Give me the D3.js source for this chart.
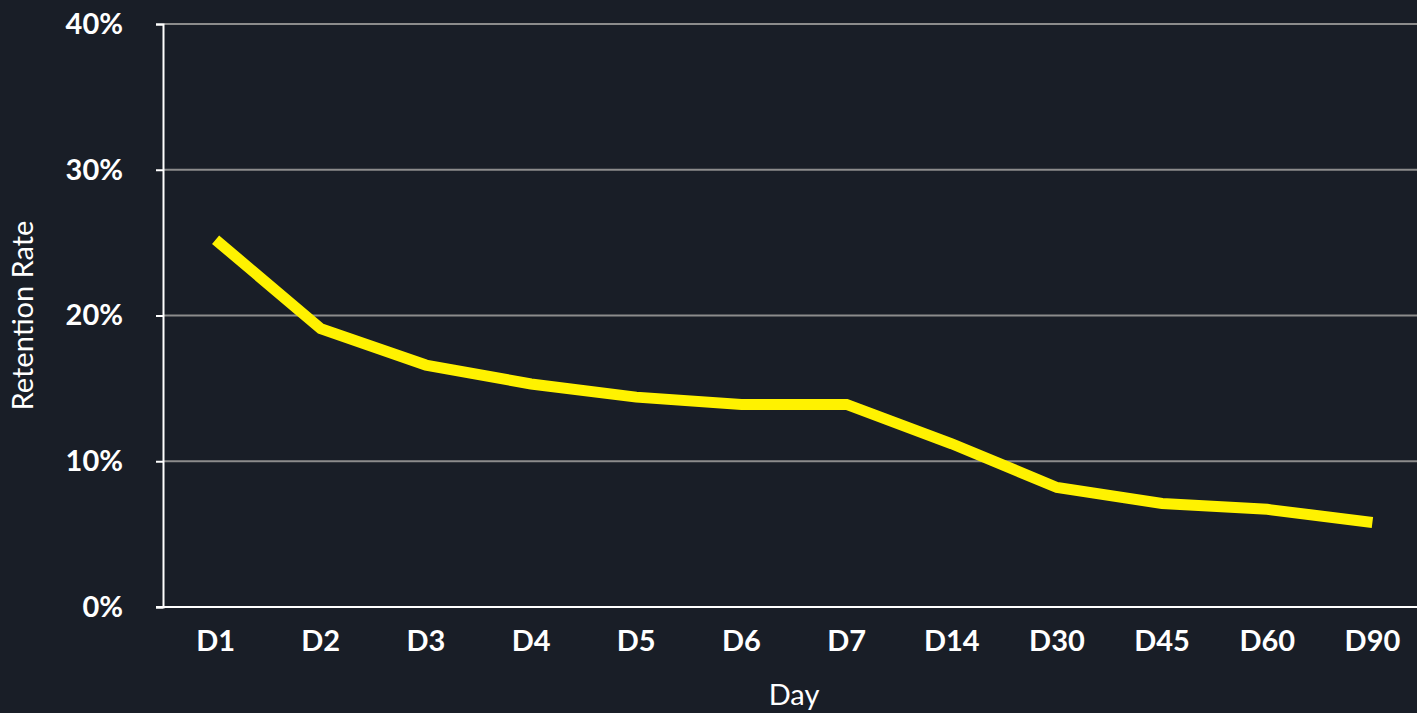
<!DOCTYPE html>
<html>
<head>
<meta charset="utf-8">
<script src="https://cdn.jsdelivr.net/npm/d3@7"></script>
<style>
  html, body { margin: 0; padding: 0; background: #191e27; }
  svg { display: block; }
</style>
</head>
<body>
<svg id="chart" width="1417" height="713"></svg>
<script>
// Retention by day since install
const days = ["D1", "D2", "D3", "D4", "D5", "D6", "D7", "D14", "D30", "D45", "D60", "D90"];
const retention = [25.2, 19.1, 16.6, 15.3, 14.4, 13.9, 13.9, 11.2, 8.2, 7.1, 6.7, 5.8];
const yTicks = [0, 10, 20, 30, 40];

const W = 1417, H = 713;
const margin = { left: 163, top: 24, bottom: 106 };
const plotRight = 1425;

const svg = d3.select("#chart");
svg.append("rect").attr("width", W).attr("height", H).attr("fill", "#191e27");

const x = d3.scaleBand().domain(days).range([margin.left, plotRight]).padding(0);
const y = d3.scaleLinear().domain([0, 40]).range([H - margin.bottom, margin.top]);

const font = "Lato, 'Open Sans', sans-serif";
const fontSize = "29px";

// horizontal gridlines
svg.append("g")
  .selectAll("line")
  .data(yTicks.filter(d => d > 0))
  .join("line")
  .attr("x1", margin.left).attr("x2", W)
  .attr("y1", d => y(d)).attr("y2", d => y(d))
  .attr("stroke", "#8c8c8c").attr("stroke-width", 2);

// y axis
const yAxis = svg.append("g")
  .attr("transform", `translate(${margin.left},0)`)
  .call(d3.axisLeft(y).tickValues(yTicks).tickFormat(d => d + "%").tickSize(7).tickPadding(33));
yAxis.select(".domain").attr("stroke", "#ffffff").attr("stroke-width", 2);
yAxis.selectAll(".tick line").attr("stroke", "#ffffff").attr("stroke-width", 2);
yAxis.selectAll(".tick text")
  .attr("fill", "#ffffff").style("font-family", font).style("font-weight", 700).style("font-size", fontSize);

// x axis
const xAxis = svg.append("g")
  .attr("transform", `translate(0,${y(0)})`)
  .call(d3.axisBottom(x).tickSize(0).tickPadding(23));
xAxis.select(".domain").attr("d", `M${margin.left - 7},0H${W}`).attr("stroke", "#ffffff").attr("stroke-width", 2);
xAxis.selectAll(".tick text")
  .attr("fill", "#ffffff").style("font-family", font).style("font-weight", 700).style("font-size", fontSize);

// retention line
const line = d3.line()
  .x((d, i) => x(days[i]) + x.bandwidth() / 2)
  .y(d => y(d));

svg.append("path")
  .datum(retention)
  .attr("d", line)
  .attr("fill", "none")
  .attr("stroke", "#fff200")
  .attr("stroke-width", 11)
  .attr("stroke-linejoin", "miter");

// axis titles
svg.append("text")
  .attr("transform", `translate(33,${(y(0) + y(40)) / 2}) rotate(-90)`)
  .attr("text-anchor", "middle")
  .attr("fill", "#ffffff")
  .style("font-family", font).style("font-size", fontSize)
  .text("Retention Rate");

svg.append("text")
  .attr("x", 794).attr("y", 705)
  .attr("text-anchor", "middle")
  .attr("fill", "#ffffff")
  .style("font-family", font).style("font-size", fontSize)
  .text("Day");
</script>
</body>
</html>
